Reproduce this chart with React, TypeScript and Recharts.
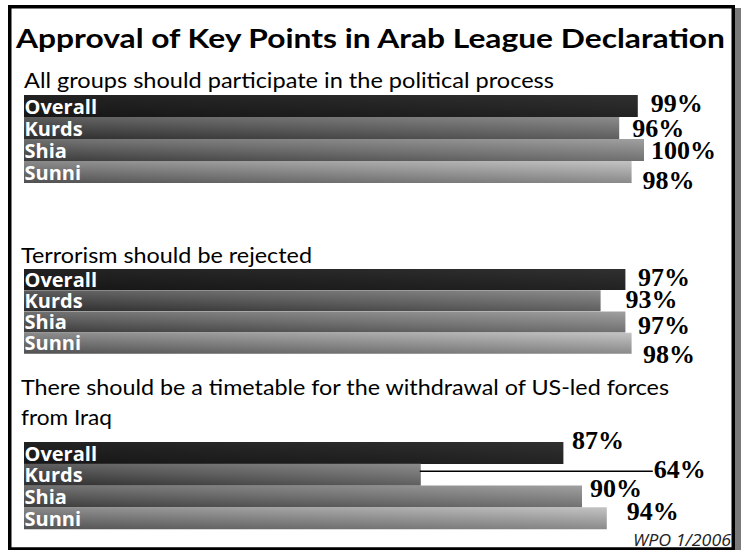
import { Bar, BarChart, Cell, LabelList, XAxis, YAxis } from 'recharts';

// data
const chartTitle = 'Approval of Key Points in Arab League Declaration';
const sourceNote = 'WPO 1/2006';
const groups = ['Overall', 'Kurds', 'Shia', 'Sunni'];

const participateQuestion = ['All groups should participate in the political process'];
const terrorismQuestion = ['Terrorism should be rejected'];
const timetableQuestion = ['There should be a timetable for the withdrawal of US-led forces', 'from Iraq'];

const participateValues = [99, 96, 100, 98];
const terrorismValues = [97, 93, 97, 98];
const timetableValues = [87, 64, 90, 94];

// layout
const W = 741;
const H = 550;
const PAD = 24;
const PLOT_LEFT = 24;
const PLOT_RIGHT = 97; // 100% ends at x=644

const barShades = [
  ['#161616', '#222222', '#303030'],
  ['#2c2c2c', '#5e5e5e', '#8c8c8c'],
  ['#3a3a3a', '#707070', '#a0a0a0'],
  ['#505050', '#8a8a8a', '#c4c4c4'],
];

const panels = [
  {
    question: participateQuestion,
    values: participateValues,
    barTop: 95,
    barHeight: 88,
    lines: [{ x: 24, y: 88, len: 530 }],
    nudges: [[13, -5], [13, -2], [7, -2], [11, 6]],
  },
  {
    question: terrorismQuestion,
    values: terrorismValues,
    barTop: 269,
    barHeight: 85,
    lines: [{ x: 21, y: 263, len: 291 }],
    nudges: [[12.5, -4], [25, -3.5], [12.5, 1], [11.5, 9]],
  },
  {
    question: timetableQuestion,
    values: timetableValues,
    barTop: 442,
    barHeight: 87,
    lines: [
      { x: 21, y: 395, len: 648 },
      { x: 21, y: 425, len: 91 },
    ],
    nudges: [[8.5, -15], [233, -7.5], [8, -11], [20, -9]],
  },
];

const sans = "Lato, 'Open Sans', sans-serif";

const nameLabel = (props: any) => {
  const { x, y, height, value } = props;
  return (
    <text
      x={Number(x) + 0.5}
      y={Number(y) + Number(height) - 3.5}
      fill="#fff"
      fontFamily="'Open Sans', sans-serif"
      fontWeight="bold"
      fontSize={20}
    >
      {value}
    </text>
  );
};

const valueLabel = (nudges: number[][]) => (props: any) => {
  const { x, y, width, height, value, index } = props;
  const [dx, dy] = nudges[index] ?? [10, 0];
  const end = Number(x) + Number(width);
  const lx = end + dx;
  const ly = Number(y) + Number(height) + dy;
  return (
    <g>
      {dx > 40 && (
        <line x1={end - 1} x2={lx - 1} y1={ly - 7} y2={ly - 7} stroke="#000" strokeWidth={1.3} />
      )}
      <text
        x={lx}
        y={ly}
        fill="#000"
        fontFamily="'Liberation Serif', 'Times New Roman', serif"
        fontWeight="bold"
        fontSize={26}
      >
        {value}%
      </text>
    </g>
  );
};

function Panel({ panel }: { panel: (typeof panels)[number] }) {
  const rows = groups.map((group, i) => ({ group, value: panel.values[i] }));
  return (
    <div style={{ position: 'absolute', left: 0, top: panel.barTop - PAD }}>
      <BarChart
        width={W}
        height={panel.barHeight + PAD * 2}
        data={rows}
        layout="vertical"
        barCategoryGap={0}
        margin={{ top: PAD, right: PLOT_RIGHT, bottom: PAD, left: PLOT_LEFT }}
      >
        <XAxis type="number" domain={[0, 100]} hide />
        <YAxis type="category" dataKey="group" hide width={0} />
        <Bar dataKey="value" isAnimationActive={false}>
          {rows.map((r, i) => (
            <Cell key={r.group} fill={`url(#bar-grad-${i})`} />
          ))}
          <LabelList dataKey="group" content={nameLabel} />
          <LabelList dataKey="value" content={valueLabel(panel.nudges)} />
        </Bar>
      </BarChart>
    </div>
  );
}

export default function App() {
  return (
    <div style={{ position: 'absolute', left: 0, top: 0, width: W, height: H, background: '#fff', overflow: 'hidden' }}>
      <svg width={W} height={H} style={{ position: 'absolute', left: 0, top: 0 }}>
        <defs>
          {barShades.map((s, i) => (
            <linearGradient key={i} id={`bar-grad-${i}`} x1="0" y1="1" x2="1" y2="0">
              <stop offset="0%" stopColor={s[0]} />
              <stop offset="50%" stopColor={s[1]} />
              <stop offset="100%" stopColor={s[2]} />
            </linearGradient>
          ))}
        </defs>
        <rect x={735} y={8} width={6} height={542} fill="#7a7a7a" />
        <rect x={9.75} y={6.75} width={723.5} height={542.25} fill="none" stroke="#000" strokeWidth={3.5} />
        <text
          x={16}
          y={48}
          fontFamily={sans}
          fontWeight="bold"
          fontSize={27}
          fill="#000"
          textLength={709}
          lengthAdjust="spacingAndGlyphs"
        >
          {chartTitle}
        </text>
        {panels.map((p) =>
          p.question.map((line, j) => (
            <text
              key={line}
              x={p.lines[j].x}
              y={p.lines[j].y}
              fontFamily={sans}
              fontSize={21.5}
              fill="#000"
              textLength={p.lines[j].len}
              lengthAdjust="spacingAndGlyphs"
            >
              {line}
            </text>
          ))
        )}
        <text
          x={633}
          y={546}
          fontFamily="'Open Sans', sans-serif"
          fontStyle="italic"
          fontSize={16}
          fill="#222"
          textLength={98}
          lengthAdjust="spacingAndGlyphs"
        >
          {sourceNote}
        </text>
      </svg>
      {panels.map((p, i) => (
        <Panel key={i} panel={p} />
      ))}
    </div>
  );
}
